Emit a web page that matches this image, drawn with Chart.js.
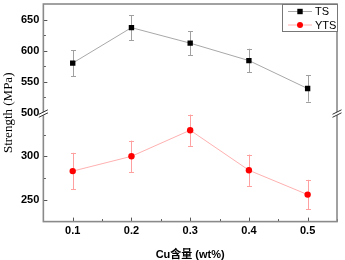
<!DOCTYPE html>
<html><head><meta charset="utf-8">
<script src="https://cdn.jsdelivr.net/npm/chart.js@4"></script>
<style>html,body{margin:0;padding:0;background:#fff}</style>
</head><body>
<canvas id="c" width="345" height="260"></canvas>
<script>
// ---- data ----
const cuContent = [0.1, 0.2, 0.3, 0.4, 0.5];
const tsValues = [580, 637, 612, 584, 539];
const tsErrors = [21, 20, 19, 19, 21];
const ytsValues = [283, 300, 330, 284, 256];
const ytsErrors = [21, 18, 18, 18, 17];
const seriesNames = ['TS', 'YTS'];
const xTickLabels = [0.1, 0.2, 0.3, 0.4, 0.5];
const yTopTicks = [500, 550, 600, 650];
const yBotTicks = [250, 300];
const xTitle = 'Cu含量 (wt%)';
const yTitle = 'Strength (MPa)';

const AXIS_GRAY = '#8a8a8a';
const TICK_FONT = {family: '"Liberation Sans", Arial, sans-serif', size: 11, weight: 'bold'};

function pts(xs, ys){ return xs.map((x,i)=>({x:x, y:ys[i]})); }
function noPad(s){ s.paddingTop = 0; s.paddingBottom = 0; s.paddingLeft = 0; s.paddingRight = 0; }

const errorBars = {
  id: 'errorBars',
  beforeDatasetsDraw(chart){
    const ctx = chart.ctx;
    chart.data.datasets.forEach((ds, di)=>{
      const ys = chart.scales[ds.yAxisID];
      const xs = chart.scales.x;
      ctx.save();
      ctx.strokeStyle = ds.errColor;
      ctx.lineWidth = 1;
      ds.data.forEach((p,i)=>{
        const e = ds.errors[i];
        const x = Math.round(xs.getPixelForValue(p.x)) + 0.5;
        const y1 = ys.getPixelForValue(p.y + e);
        const y2 = ys.getPixelForValue(p.y - e);
        ctx.beginPath();
        ctx.moveTo(x, y1); ctx.lineTo(x, y2);
        ctx.moveTo(x-2.5, Math.round(y1)+0.5); ctx.lineTo(x+2.5, Math.round(y1)+0.5);
        ctx.moveTo(x-2.5, Math.round(y2)+0.5); ctx.lineTo(x+2.5, Math.round(y2)+0.5);
        ctx.stroke();
      });
      ctx.restore();
    });
  }
};

const decorations = {
  id: 'decorations',
  afterDraw(chart){
    const ctx = chart.ctx;
    const a = chart.chartArea;
    const xs = chart.scales.x, yt = chart.scales.yTop, yb = chart.scales.yBot;
    ctx.save();
    // ticks (inward)
    ctx.strokeStyle = '#555';
    ctx.lineWidth = 1;
    ctx.beginPath();
    const xStep = xTickLabels[1]-xTickLabels[0];
    xTickLabels.forEach(v=>{
      const x = Math.round(xs.getPixelForValue(v))+0.5;
      ctx.moveTo(x, a.bottom); ctx.lineTo(x, a.bottom-4);
    });
    for (let v = xTickLabels[0]-xStep/2; v <= xs.max+1e-9; v += xStep){
      if (v < xs.min-1e-9) continue;
      const x = Math.round(xs.getPixelForValue(v))+0.5;
      ctx.moveTo(x, a.bottom); ctx.lineTo(x, a.bottom-2.5);
    }
    [[yt, yTopTicks],[yb, yBotTicks]].forEach(([s, tk])=>{
      const st = tk.length>1 ? tk[1]-tk[0] : 50;
      tk.forEach(v=>{
        const y = Math.round(s.getPixelForValue(v))+0.5;
        ctx.moveTo(a.left, y); ctx.lineTo(a.left+4, y);
      });
      for (let v = tk[0]-st/2; v <= s.max; v += st){
        if (v <= s.min || v >= s.max) continue;
        const y = Math.round(s.getPixelForValue(v))+0.5;
        ctx.moveTo(a.left, y); ctx.lineTo(a.left+2.5, y);
      }
    });
    ctx.stroke();
    // frame
    ctx.strokeStyle = AXIS_GRAY;
    ctx.lineWidth = 1.6;
    ctx.strokeRect(a.left, a.top, a.right-a.left, a.bottom-a.top);
    // breaks
    const by = (yt.bottom + yb.top)/2;
    [a.left, a.right].forEach(x=>{
      ctx.fillStyle = '#fff';
      ctx.beginPath();
      ctx.moveTo(x-4, by+1.5); ctx.lineTo(x+4, by-2.5); ctx.lineTo(x+4, by+0.5); ctx.lineTo(x-4, by+4.5); ctx.closePath();
      ctx.fill();
      ctx.strokeStyle = '#333';
      ctx.lineWidth = 1;
      ctx.beginPath();
      ctx.moveTo(x-4.5, by+1.5); ctx.lineTo(x+4.5, by-3);
      ctx.moveTo(x-4.5, by+4.5); ctx.lineTo(x+4.5, by);
      ctx.stroke();
    });
    // legend
    const lw = 55, lh = 27;
    const lx = a.right - lw, ly = a.top;
    ctx.fillStyle = '#fff';
    ctx.fillRect(lx, ly, lw, lh);
    ctx.strokeStyle = '#777';
    ctx.lineWidth = 1;
    ctx.strokeRect(lx+0.5, ly+0.5, lw, lh);
    chart.data.datasets.forEach((ds,i)=>{
      const cy = ly + 7.5 + i*13.5;
      ctx.strokeStyle = ds.borderColor;
      ctx.lineWidth = 1;
      ctx.beginPath(); ctx.moveTo(lx+6, cy); ctx.lineTo(lx+30, cy); ctx.stroke();
      ctx.fillStyle = ds.pointBackgroundColor;
      if (ds.pointStyle === 'rect'){ ctx.fillRect(lx+18-2.7, cy-2.7, 5.4, 5.4); }
      else { ctx.beginPath(); ctx.arc(lx+18, cy, 3, 0, Math.PI*2); ctx.fill(); }
      ctx.fillStyle = '#000';
      ctx.font = '11px "Liberation Sans", Arial, sans-serif';
      ctx.textBaseline = 'middle';
      ctx.textAlign = 'left';
      ctx.fillText(ds.label, lx+33, cy+0.5);
    });
    // y title
    ctx.translate(9, (a.top+a.bottom)/2);
    ctx.rotate(-Math.PI/2);
    ctx.fillStyle = '#000';
    ctx.font = '13px "Liberation Serif", "Times New Roman", serif';
    ctx.textAlign = 'center';
    ctx.textBaseline = 'middle';
    ctx.fillText(yTitle, 0, 0);
    ctx.restore();
  }
};

new Chart(document.getElementById('c'), {
  type: 'line',
  data: {
    datasets: [
      {label: seriesNames[0], data: pts(cuContent, tsValues), errors: tsErrors, yAxisID: 'yTop',
       borderColor: '#a8a8a8', borderWidth: 1, pointStyle: 'rect', pointRadius: 3.8,
       pointBackgroundColor: '#000', pointBorderColor: '#000', pointBorderWidth: 0, errColor: '#a0a0a0', tension: 0},
      {label: seriesNames[1], data: pts(cuContent, ytsValues), errors: ytsErrors, yAxisID: 'yBot',
       borderColor: '#ffb0b0', borderWidth: 1, pointStyle: 'circle', pointRadius: 3.2,
       pointBackgroundColor: '#ff0000', pointBorderColor: '#ff0000', pointBorderWidth: 0, errColor: '#ffa0a0', tension: 0}
    ]
  },
  options: {
    responsive: false,
    animation: false,
    devicePixelRatio: 1,
    layout: {padding: {left: 17, right: 8, top: 2, bottom: -2}},
    plugins: {legend: {display: false}, tooltip: {enabled: false}},
    scales: {
      x: {
        type: 'linear', min: 0.05, max: 0.55,
        afterBuildTicks: s => { s.ticks = xTickLabels.map(v=>({value:v})); },
        afterFit: noPad,
        ticks: {font: TICK_FONT, color: '#000', padding: 3, autoSkip: false, maxRotation: 0,
                callback: v => Number(v).toFixed(1)},
        grid: {display: false, drawTicks: false}, border: {display: false},
        title: {display: true, text: xTitle, color: '#000',
                font: {family: '"Liberation Sans", Arial, "Noto Sans CJK SC", sans-serif', size: 11, weight: 'bold'},
                padding: {top: 8, bottom: 0}}
      },
      yBot: {
        type: 'linear', position: 'left', stack: 'v', stackWeight: 1, min: 225, max: 350,
        afterBuildTicks: s => { s.ticks = yBotTicks.map(v=>({value:v})); },
        afterFit: noPad,
        ticks: {font: TICK_FONT, color: '#000', padding: 4, autoSkip: false},
        grid: {display: false, drawTicks: false}, border: {display: false}
      },
      yTop: {
        type: 'linear', position: 'left', stack: 'v', stackWeight: 1, min: 500, max: 675,
        afterBuildTicks: s => { s.ticks = yTopTicks.map(v=>({value:v})); },
        afterFit: noPad,
        ticks: {font: TICK_FONT, color: '#000', padding: 4, autoSkip: false},
        grid: {display: false, drawTicks: false}, border: {display: false}
      }
    }
  },
  plugins: [errorBars, decorations]
});
</script>
</body></html>
